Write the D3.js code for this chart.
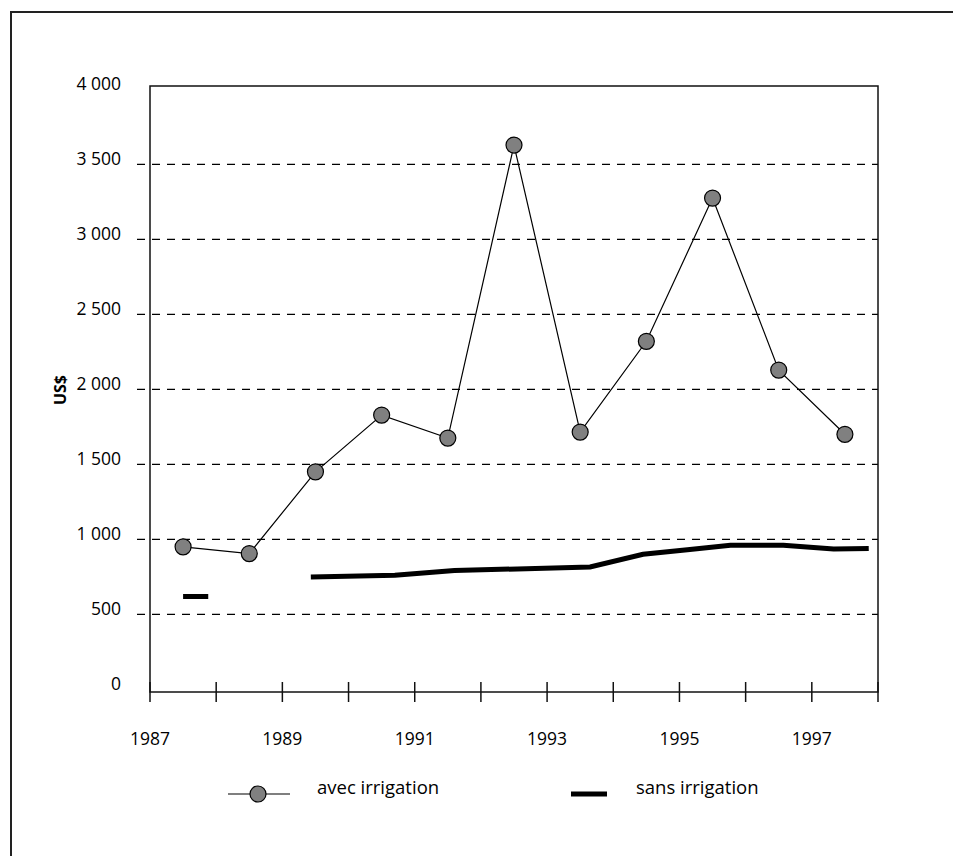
<!DOCTYPE html>
<html>
<head>
<meta charset="utf-8">
<script src="https://cdn.jsdelivr.net/npm/d3@7/dist/d3.min.js"></script>
<style>
  body { margin: 0; background: #fff; }
  text { font-family: "Open Sans", sans-serif; fill: #000; }
</style>
</head>
<body>
<svg width="953" height="856"></svg>
<script>
// data
var yTicks      = [0, 500, 1000, 1500, 2000, 2500, 3000, 3500, 4000];
var gridValues  = [500, 1000, 1500, 2000, 2500, 3000, 3500];
var yearTicks   = d3.range(1987, 1999);
var yearLabels  = [1987, 1989, 1991, 1993, 1995, 1997];

var avecYears   = [1987.5, 1988.5, 1989.5, 1990.5, 1991.5, 1992.5, 1993.5, 1994.5, 1995.5, 1996.5, 1997.5];
var avecValues  = [950, 905, 1450, 1828, 1675, 3628, 1715, 2320, 3275, 2128, 1700];

// null = gap in the line
var sansYears   = [1987.5, 1987.88, 1988.5, 1989.43, 1990.7, 1991.6, 1993.65, 1994.45, 1995.12, 1995.77, 1996.57, 1997.33, 1997.86];
var sansValues  = [618, 618, null, 748, 760, 792, 815, 900, 930, 960, 960, 935, 938];

var svg = d3.select("svg");

// outer frame (runs off the page on the right and bottom)
svg.append("rect")
   .attr("x", 11).attr("y", 12)
   .attr("width", 1200).attr("height", 1200)
   .attr("fill", "none").attr("stroke", "#222").attr("stroke-width", 2);

var x = d3.scaleLinear().domain([1987, 1998]).range([150, 878]),
    y = d3.scaleLinear().domain([0, 4000]).range([689.3, 89.3]);

var plotTop = 86, plotBottom = 692;

// dashed grid, starting a bit left of the axis
svg.append("g").attr("class", "grid")
   .selectAll("line")
   .data(gridValues)
   .enter().append("line")
     .attr("x1", 137).attr("x2", x(1998))
     .attr("y1", d => y(d)).attr("y2", d => y(d))
     .attr("stroke", "#000").attr("stroke-width", 1.2)
     .attr("stroke-dasharray", "8,7");

// plot frame
svg.append("rect")
   .attr("x", x(1987)).attr("y", plotTop)
   .attr("width", x(1998) - x(1987)).attr("height", plotBottom - plotTop)
   .attr("fill", "none").attr("stroke", "#111").attr("stroke-width", 1.5);

// x ticks crossing the axis
svg.append("g").selectAll("line")
   .data(yearTicks)
   .enter().append("line")
     .attr("x1", d => x(d)).attr("x2", d => x(d))
     .attr("y1", plotBottom - 10).attr("y2", plotBottom + 10)
     .attr("stroke", "#111").attr("stroke-width", 1.5);

svg.append("g").selectAll("text")
   .data(yearLabels)
   .enter().append("text")
     .attr("x", d => x(d))
     .attr("y", 738)
     .attr("text-anchor", "middle")
     .attr("dominant-baseline", "central")
     .style("font-size", "17.5px")
     .text(d => d);

// y labels
var fmt = d3.format(",");
svg.append("g").selectAll("text")
   .data(yTicks)
   .enter().append("text")
     .attr("x", 121)
     .attr("y", d => y(d) - 6)
     .attr("text-anchor", "end")
     .attr("dominant-baseline", "central")
     .style("font-size", "17.5px")
     .text(d => fmt(d).replace(",", " "));

svg.append("text")
   .attr("transform", "translate(60,390) rotate(-90)")
   .attr("text-anchor", "middle")
   .attr("dominant-baseline", "central")
   .style("font-size", "16px")
   .style("font-weight", "bold")
   .text("US$");

// sans irrigation - thick line
var sans = sansYears.map((d, i) => [d, sansValues[i]]);
svg.append("path")
   .datum(sans)
   .attr("d", d3.line()
       .defined(d => d[1] != null)
       .x(d => x(d[0]))
       .y(d => y(d[1])))
   .attr("fill", "none")
   .attr("stroke", "#000")
   .attr("stroke-width", 5);

// avec irrigation - thin line + circles
var avec = avecYears.map((d, i) => [d, avecValues[i]]);
svg.append("path")
   .datum(avec)
   .attr("d", d3.line().x(d => x(d[0])).y(d => y(d[1])))
   .attr("fill", "none")
   .attr("stroke", "#000")
   .attr("stroke-width", 1.2);

svg.append("g").selectAll("circle")
   .data(avec)
   .enter().append("circle")
     .attr("cx", d => x(d[0]))
     .attr("cy", d => y(d[1]))
     .attr("r", 8)
     .attr("fill", "#808080")
     .attr("stroke", "#000")
     .attr("stroke-width", 1.2);

// legend
var legY = 794;
var leg = svg.append("g");
leg.append("line")
   .attr("x1", 228).attr("x2", 290).attr("y1", legY).attr("y2", legY)
   .attr("stroke", "#000").attr("stroke-width", 1.2);
leg.append("circle")
   .attr("cx", 258).attr("cy", legY).attr("r", 8)
   .attr("fill", "#808080").attr("stroke", "#000").attr("stroke-width", 1.2);
leg.append("text")
   .attr("x", 317).attr("y", legY - 8)
   .attr("dominant-baseline", "central")
   .style("font-size", "18.5px")
   .text("avec irrigation");

leg.append("line")
   .attr("x1", 571).attr("x2", 607).attr("y1", legY).attr("y2", legY)
   .attr("stroke", "#000").attr("stroke-width", 5);
leg.append("text")
   .attr("x", 636).attr("y", legY - 8)
   .attr("dominant-baseline", "central")
   .style("font-size", "18.5px")
   .text("sans irrigation");
</script>
</body>
</html>
